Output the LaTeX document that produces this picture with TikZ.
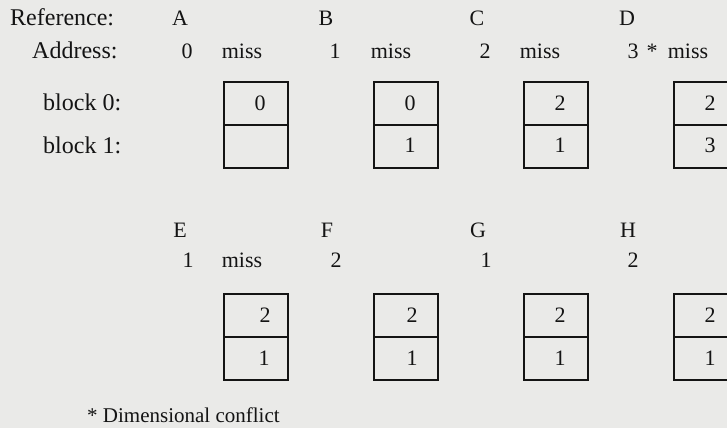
\documentclass[tikz,border=0pt]{standalone}
\usepackage{fontspec}
\setmainfont{Liberation Serif}
\definecolor{paper}{RGB}{234,234,232}
\definecolor{ink}{RGB}{20,20,20}
\begin{document}
\begin{tikzpicture}[x=1pt,y=-1pt,
  txt/.style={inner sep=0pt,anchor=base,text=ink,font=\fontsize{22}{26}\selectfont},
  lbl/.style={txt,anchor=base west,font=\fontsize{24}{28}\selectfont},
  cell/.style={draw=ink,line width=1.7pt,minimum width=64pt,minimum height=43pt,inner sep=0pt,anchor=north west},
  num/.style={txt}]
\fill[paper] (0,0) rectangle (727,428);
\useasboundingbox (0,0) rectangle (727,428);
% row labels
\node[lbl] (ref) at (10,26) {Reference:};
\node[lbl] (addr) at (32,58) {Address:};
\node[lbl] (b0) at (43,110) {block 0:};
\node[lbl] (b1) at (43,153) {block 1:};
% row 1 letters
\node[txt] (lA) at (180,26) {A};
\node[txt] (lB) at (326,26) {B};
\node[txt] (lC) at (477,26) {C};
\node[txt] (lD) at (627,26) {D};
% row 1 addresses
\node[txt] (aA) at (187,58) {0};
\node[txt] (mA) at (242,58) {miss};
\node[txt] (aB) at (335,58) {1};
\node[txt] (mB) at (391,58) {miss};
\node[txt] (aC) at (485,58) {2};
\node[txt] (mC) at (540,58) {miss};
\node[txt] (aD) at (633,58) {3};
\node[txt] (sD) at (652,58) {*};
\node[txt] (mD) at (688,58) {miss};
% row 1 boxes
\node[cell] (A0) at (223,81) {};
\node[cell] (A1) at (223,124) {};
\node[cell] (B0) at (373,81) {};
\node[cell] (B1) at (373,124) {};
\node[cell] (C0) at (523,81) {};
\node[cell] (C1) at (523,124) {};
\node[cell] (D0) at (673,81) {};
\node[cell] (D1) at (673,124) {};
\node[num] (nA0) at (260,110) {0};
\node[num] (nB0) at (410,110) {0};
\node[num] (nB1) at (410,152) {1};
\node[num] (nC0) at (560,110) {2};
\node[num] (nC1) at (560,152) {1};
\node[num] (nD0) at (710,110) {2};
\node[num] (nD1) at (710,152) {3};
% row 2 letters
\node[txt] (lE) at (180,237) {E};
\node[txt] (lF) at (327,237) {F};
\node[txt] (lG) at (478,237) {G};
\node[txt] (lH) at (628,237) {H};
% row 2 addresses
\node[txt] (aE) at (188,267) {1};
\node[txt] (mE) at (242,267) {miss};
\node[txt] (aF) at (336,267) {2};
\node[txt] (aG) at (486,267) {1};
\node[txt] (aH) at (633,267) {2};
% row 2 boxes
\node[cell] (E0) at (223,293) {};
\node[cell] (E1) at (223,336) {};
\node[cell] (F0) at (373,293) {};
\node[cell] (F1) at (373,336) {};
\node[cell] (G0) at (523,293) {};
\node[cell] (G1) at (523,336) {};
\node[cell] (H0) at (673,293) {};
\node[cell] (H1) at (673,336) {};
\node[num] (nE0) at (265,322) {2};
\node[num] (nE1) at (264,365) {1};
\node[num] (nF0) at (412,322) {2};
\node[num] (nF1) at (412,365) {1};
\node[num] (nG0) at (560,322) {2};
\node[num] (nG1) at (560,365) {1};
\node[num] (nH0) at (710,322) {2};
\node[num] (nH1) at (710,365) {1};
% footnote
\node[lbl,font=\fontsize{21}{25}\selectfont] (foot) at (87,422) {* Dimensional conflict};
\end{tikzpicture}
\end{document}
